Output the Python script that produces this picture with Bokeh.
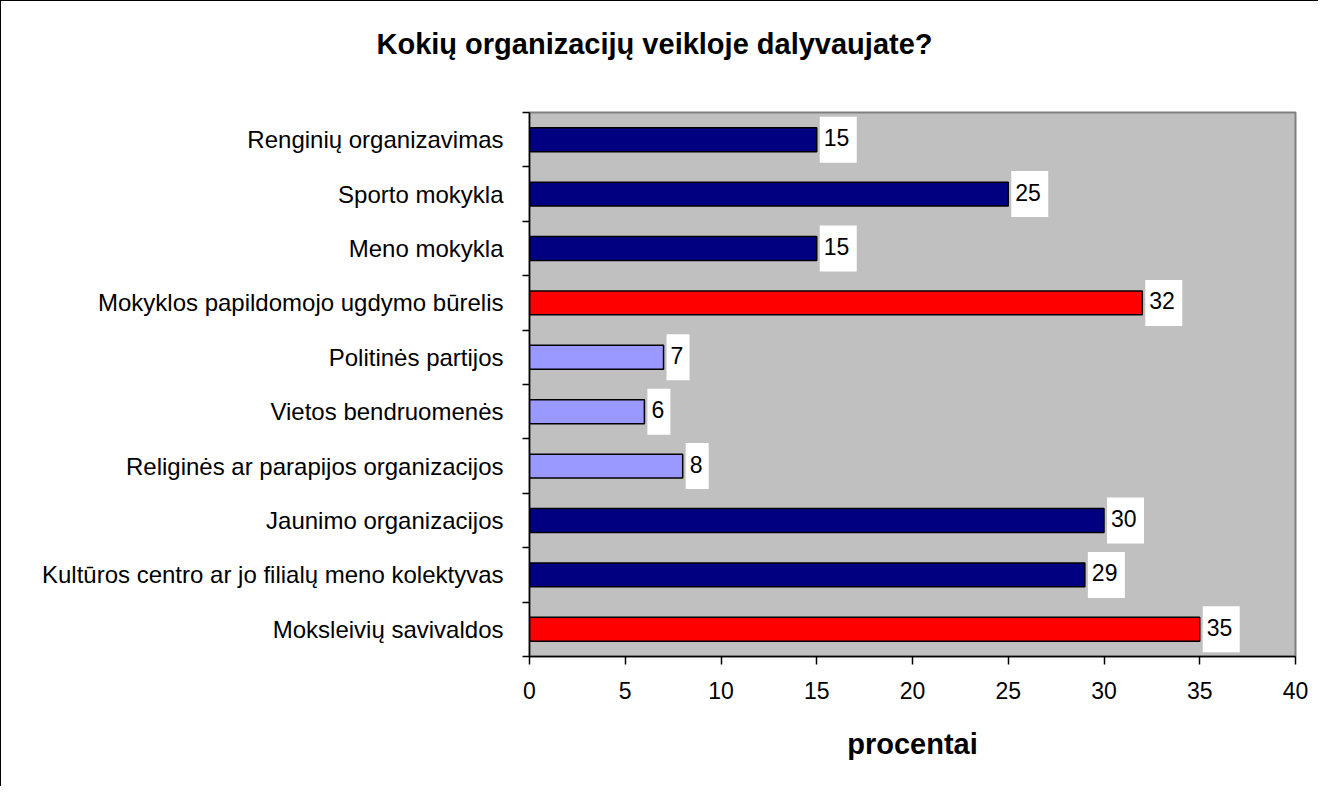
from bokeh.plotting import figure
from bokeh.models import Range1d, FixedTicker, ColumnDataSource
from bokeh.embed import file_html
from bokeh.resources import INLINE
from bokeh.core.properties import value

# ---- data (top to bottom as shown) ----
categories = [
    "Renginių organizavimas",
    "Sporto mokykla",
    "Meno mokykla",
    "Mokyklos papildomojo ugdymo būrelis",
    "Politinės partijos",
    "Vietos bendruomenės",
    "Religinės ar parapijos organizacijos",
    "Jaunimo organizacijos",
    "Kultūros centro ar jo filialų meno kolektyvas",
    "Moksleivių savivaldos",
]
percent = [15, 25, 15, 32, 7, 6, 8, 30, 29, 35]
group = ["main", "main", "main", "top", "low", "low", "low", "main", "main", "top"]
x_ticks = [0, 5, 10, 15, 20, 25, 30, 35, 40]
title_text = "Kokių organizacijų veikloje dalyvaujate?"
x_label = "procentai"

# ---- styles ----
FONT = "Liberation Sans"
group_color = {"main": "#000080", "top": "#FF0000", "low": "#9999FF"}
X_MAX = 40
FRAME_W = 766

n = len(categories)
ypos = [n - i - 0.5 for i in range(n)]
colors = [group_color[g] for g in group]
pxu = FRAME_W / X_MAX  # pixels per data unit
box_w = [9 + 14 * len(str(v)) for v in percent]
box_x = [v + (3 + w / 2) / pxu for v, w in zip(percent, box_w)]
labels = [str(v) for v in percent]

src = ColumnDataSource(dict(y=ypos, v=percent, c=colors, bx=box_x, bw=box_w, t=labels))

p = figure(
    width=1318, height=786,
    x_range=Range1d(0, X_MAX), y_range=Range1d(0, n),
    output_backend="svg", toolbar_location=None, title=title_text,
    min_border_left=528, min_border_right=24, min_border_top=111, min_border_bottom=131,
    background_fill_color="#C0C0C0", border_fill_color="white",
    styles={"border-top": "1px solid black", "border-left": "1px solid black"},
)
p.outline_line_color = "#808080"
p.outline_line_width = 2
p.grid.grid_line_color = None

p.title.text_font = FONT
p.title.text_font_size = "29px"
p.title.text_font_style = "bold"
p.title.text_color = "black"
p.title.align = "left"
p.title.offset = -153
p.title.vertical_align = "top"
try:
    p.title.padding = dict(top=0, right=0, bottom=51, left=0)
    p.title.standoff = 0
except Exception:
    p.title.standoff = 78

# bars
p.hbar(y="y", right="v", left=0, height=0.44, source=src,
       fill_color="c", line_color="black", line_width=1.5)

# value label boxes and texts
p.rect(x="bx", y="y", width="bw", width_units="screen", height=46, height_units="screen",
       source=src, fill_color="white", line_color=None)
p.text(x="v", y="y", text="t", source=src, x_offset=7, y_offset=-2,
       text_font=value(FONT), text_font_size="23px", text_baseline="middle",
       text_align="left", text_color="black")

# x axis
xa = p.xaxis[0]
xa.ticker = FixedTicker(ticks=x_ticks)
xa.major_tick_out = 8
xa.major_tick_in = 0
xa.minor_tick_line_color = None
xa.major_tick_line_width = 1.5
xa.axis_line_width = 1.5
xa.axis_line_color = "black"
xa.major_tick_line_color = "black"
xa.major_label_text_font = FONT
xa.major_label_text_font_size = "23px"
xa.major_label_text_color = "black"
xa.major_label_standoff = 17
xa.axis_label = x_label
xa.axis_label_text_font = FONT
xa.axis_label_text_font_size = "29px"
xa.axis_label_text_font_style = "bold"
xa.axis_label_text_color = "black"
xa.axis_label_standoff = 26

# y axis: labels at category centres, ticks at boundaries
ya = p.yaxis[0]
ya.ticker = FixedTicker(ticks=ypos, minor_ticks=list(range(n + 1)))
ya.major_label_overrides = {y: c for y, c in zip(ypos, categories)}
ya.major_tick_line_color = None
ya.major_tick_out = 0
ya.major_tick_in = 0
ya.minor_tick_out = 7
ya.minor_tick_in = 0
ya.minor_tick_line_color = "black"
ya.minor_tick_line_width = 1.5
ya.axis_line_width = 1.5
ya.axis_line_color = "black"
ya.major_label_text_font = FONT
ya.major_label_text_font_size = "24px"
ya.major_label_text_color = "black"
ya.major_label_standoff = 19

open("out.html", "w").write(file_html(p, INLINE))
